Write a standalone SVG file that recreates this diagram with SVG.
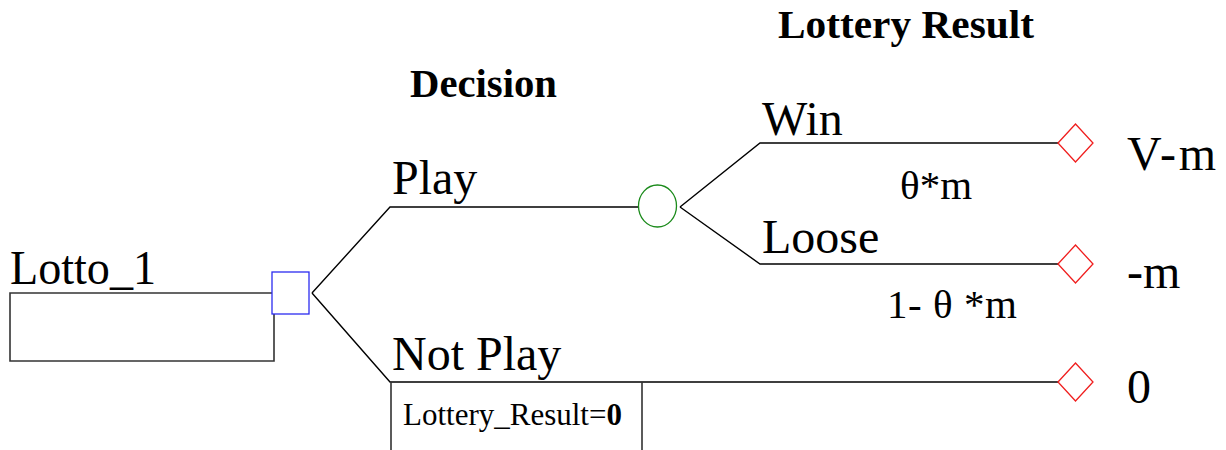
<svg xmlns="http://www.w3.org/2000/svg" width="1226" height="450" viewBox="0 0 1226 450">
  <style>
    .edge { fill: none; stroke: #000; stroke-width: 1.4; }
    .frame { fill: none; stroke: #333; stroke-width: 1.6; }
    .decision { fill: #fff; stroke: #2b2bf0; stroke-width: 1.3; }
    .chance { fill: #fff; stroke: #1a8a1a; stroke-width: 1.3; }
    .terminal { fill: #fff; stroke: #f01e1e; stroke-width: 1.3; }
    .lbl { font-family: "Liberation Serif", "Times New Roman", serif; font-size: 48px; fill: #000; }
    .prob { font-family: "Liberation Serif", "Times New Roman", serif; font-size: 41px; fill: #000; }
    .head { font-family: "Liberation Serif", "Times New Roman", serif; font-size: 41px; font-weight: bold; fill: #000; }
    .note { font-family: "Liberation Serif", "Times New Roman", serif; font-size: 31px; fill: #000; }
  </style>

  <!-- column headings -->
  <text class="head" x="410" y="97" textLength="147" lengthAdjust="spacingAndGlyphs">Decision</text>
  <text class="head" x="778" y="38" textLength="256" lengthAdjust="spacingAndGlyphs">Lottery Result</text>

  <!-- connectors -->
  <g id="connectors">
    <!-- root frame into decision -->
    <path class="frame" d="M274,314 V361 H10 V293 H272"/>
    <!-- decision branches -->
    <path class="edge" d="M312,293 L390,207 H639"/>
    <path class="edge" d="M312,293 L390,382 H1058"/>
    <!-- chance branches -->
    <path class="edge" d="M680,207 L760,143 H1058"/>
    <path class="edge" d="M680,207 L760,264 H1058"/>
    <!-- constraint frame under Not Play -->
    <path class="frame" d="M391,382 V450 M642,382 V450"/>
  </g>

  <g id="root">
    <text class="lbl" x="10" y="284" textLength="146" lengthAdjust="spacingAndGlyphs">Lotto_1</text>
  </g>

  <g id="decision-node">
    <rect class="decision" x="272" y="272" width="37" height="42"/>
  </g>

  <g id="branch-play">
    <text class="lbl" x="392" y="194">Play</text>
  </g>

  <g id="branch-not-play">
    <text class="lbl" x="392" y="370">Not Play</text>
    <text class="note" x="403" y="425">Lottery_Result=<tspan font-weight="bold">0</tspan></text>
  </g>

  <g id="chance-node">
    <ellipse class="chance" cx="657.5" cy="206" rx="19" ry="21"/>
  </g>

  <g id="branch-win">
    <text class="lbl" x="762" y="135">Win</text>
    <text class="prob" x="900" y="199">θ*m</text>
  </g>

  <g id="branch-loose">
    <text class="lbl" x="762" y="253">Loose</text>
    <text class="prob" x="887" y="318" textLength="130" lengthAdjust="spacing">1- θ *m</text>
  </g>

  <g id="terminal-win">
    <path class="terminal" d="M1058,143 L1075.5,124 L1093,143 L1075.5,162 Z"/>
    <text class="lbl" x="1127" y="170" textLength="89" lengthAdjust="spacing">V-m</text>
  </g>

  <g id="terminal-loose">
    <path class="terminal" d="M1058,264 L1075.5,245 L1093,264 L1075.5,283 Z"/>
    <text class="lbl" x="1127" y="288">-m</text>
  </g>

  <g id="terminal-not-play">
    <path class="terminal" d="M1058,382 L1075.5,363 L1093,382 L1075.5,401 Z"/>
    <text class="lbl" x="1127" y="403">0</text>
  </g>
</svg>
